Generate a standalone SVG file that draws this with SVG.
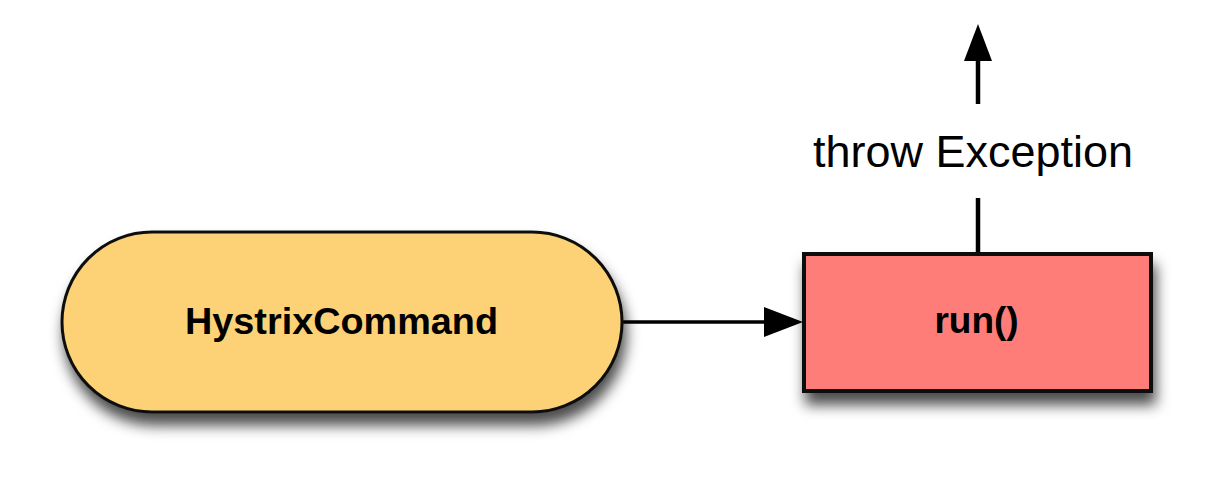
<svg xmlns="http://www.w3.org/2000/svg" width="1230" height="478" viewBox="0 0 1230 478">
<defs>
<style>
.lbl{font-family:"Liberation Sans",Arial,sans-serif;fill:#000;text-anchor:middle}
.bold{font-weight:bold;font-size:37px}
.edge{stroke:#000;fill:none}
</style>
<filter id="sh" x="-20%" y="-30%" width="140%" height="170%">
<feDropShadow dx="3" dy="12" stdDeviation="7" flood-color="#000" flood-opacity="0.7"/>
</filter>
</defs>
<rect x="0" y="0" width="1230" height="478" fill="#fff"/>
<g id="connectors">
<line class="edge" x1="622" y1="322" x2="766" y2="322" stroke-width="3.5"/>
<polygon points="764,307 803,322 764,337" fill="#000"/>
<line class="edge" x1="978" y1="253" x2="978" y2="198" stroke-width="4.5"/>
<line class="edge" x1="978" y1="104" x2="978" y2="58" stroke-width="4.5"/>
<polygon points="964,61 978,24 992,61" fill="#000"/>
<text class="lbl" x="973" y="167" font-size="45" textLength="320" lengthAdjust="spacingAndGlyphs" fill="#111">throw Exception</text>
</g>
<g id="node-hystrixcommand">
<rect x="62" y="232" width="560" height="180" rx="90" ry="90" fill="#FDD276" stroke="#111" stroke-width="3" filter="url(#sh)"/>
<text class="lbl bold" x="341.5" y="334" textLength="313" lengthAdjust="spacingAndGlyphs">HystrixCommand</text>
</g>
<g id="node-run">
<rect x="804" y="254" width="347" height="137" fill="#FF7D78" stroke="#111" stroke-width="4" filter="url(#sh)"/>
<text class="lbl bold" x="976.5" y="333">run()</text>
</g>
</svg>
